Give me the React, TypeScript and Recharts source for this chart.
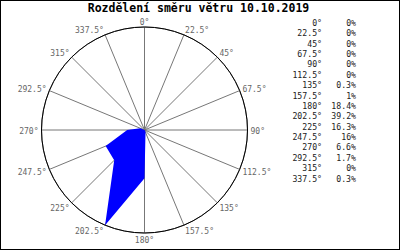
import { RadarChart, PolarGrid, PolarAngleAxis, PolarRadiusAxis, Radar } from 'recharts';

const title = 'Rozdělení směru větru 10.10.2019';
const directions = [
  '0°', '22.5°', '45°', '67.5°', '90°', '112.5°', '135°', '157.5°',
  '180°', '202.5°', '225°', '247.5°', '270°', '292.5°', '315°', '337.5°',
];
const shares = [0, 0, 0, 0, 0, 0, 0.3, 1, 18.4, 39.2, 16.3, 16, 6.6, 1.7, 0, 0.3];

const data = directions.map((direction, i) => ({ direction, share: shares[i] }));

const mono = '"DejaVu Sans Mono", "Liberation Mono", monospace';

// tick label: pushed outward a bit, shifted up on the top half and down on the bottom half
const AngleTick = ({ x, y, payload, textAnchor }: any) => {
  const rad = (payload.coordinate * Math.PI) / 180;
  const north = Math.sin(rad);
  return (
    <text
      x={x}
      y={y - 3 * north + 1}
      textAnchor={textAnchor}
      dominantBaseline="central"
      fontFamily={mono}
      fontSize={8}
      fill="#666"
    >
      {payload.value}
    </text>
  );
};

export default function App() {
  return (
    <div
      style={{
        position: 'absolute',
        left: 0,
        top: 0,
        width: 400,
        height: 250,
        boxSizing: 'border-box',
        border: '1px solid #000',
        background: '#fff',
      }}
    >
      <div style={{ position: 'absolute', left: -1, top: -1 }}>
        <RadarChart
          width={400}
          height={250}
          data={data}
          cx={144.5}
          cy={130}
          outerRadius={103}
          margin={{ top: 0, right: 0, bottom: 0, left: 0 }}
        >
          <PolarGrid gridType="circle" polarRadius={[103]} stroke="#777" />
          <PolarGrid gridType="circle" polarRadius={[103]} radialLines={false} stroke="#000" strokeWidth={1} />
          <PolarRadiusAxis domain={[0, 'dataMax']} tick={false} axisLine={false} />
          <PolarAngleAxis dataKey="direction" tick={<AngleTick />} tickLine={false} tickSize={3} axisLine={false} />
          <Radar
            dataKey="share"
            fill="#0000ff"
            fillOpacity={1}
            stroke="none"
            dot={false}
            isAnimationActive={false}
          />
        </RadarChart>
        <svg
          width={400}
          height={250}
          style={{ position: 'absolute', left: 0, top: 0, pointerEvents: 'none' }}
        >
          <text x={198.5} y={12} textAnchor="middle" fontFamily={mono} fontWeight="bold" fontSize={11.5} fill="#000">
            {title}
          </text>
          {directions.map((d, i) => (
            <g key={d}>
              <text x={322} y={26 + i * 10.37} textAnchor="end" fontFamily={mono} fontSize={8.2} fill="#222">
                {d}
              </text>
              <text x={356} y={26 + i * 10.37} textAnchor="end" fontFamily={mono} fontSize={8.2} fill="#222">
                {shares[i]}%
              </text>
            </g>
          ))}
        </svg>
      </div>
    </div>
  );
}
